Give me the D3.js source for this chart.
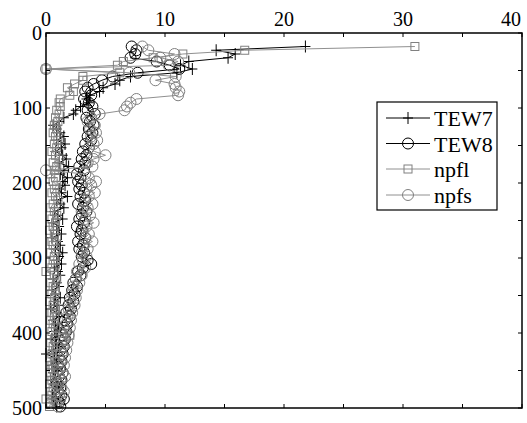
<!DOCTYPE html>
<html><head><meta charset="utf-8">
<script src="https://cdn.jsdelivr.net/npm/d3@7/dist/d3.min.js"></script>
<style>body{margin:0;background:#fff}svg{display:block}</style>
</head><body>
<script>
const xTicks=[0,10,20,30,40];
const yTicks=[0,100,200,300,400,500];
const seriesNames=["TEW7","TEW8","npfl","npfs"];
const depths=[18,23,28,33,38,43,48,53,58,63,68,73,78,83,88,93,98,103,108,113,118,123,128,133,
138,143,148,153,158,163,168,173,178,183,188,193,198,
203,208,213,218,223,228,233,238,243,248,253,258,263,268,273,278,283,288,293,298,
303,308,313,318,323,328,333,338,343,348,353,358,363,368,373,378,383,388,393,398,
403,408,413,418,423,428,433,438,443,448,453,458,463,468,473,478,483,488,493,498];
const tew7=[21.8,14.3,15.9,15.3,12.0,11.3,12.3,11.0,7.1,6.2,5.8,4.8,4.5,3.7,3.4,3.6,2.9,2.5,2.3,1.5,1.1,0.6,0.9,1.2,
1.5,0.9,1.6,1.3,0.8,1.4,1.7,1.1,1.9,1.5,1.2,1.8,1.4,
1.6,1.1,1.3,1.8,0.9,1.2,1.5,0.7,1.0,1.4,0.6,1.1,0.9,1.3,0.5,1.0,1.2,0.8,1.4,1.1,
0.9,1.3,0.7,1.0,1.2,0.6,0.9,1.1,0.5,0.8,1.2,0.7,1.0,0.4,0.9,1.1,0.6,0.8,1.0,0.7,
0.9,0.5,0.8,1.1,0.6,0.0,0.7,0.9,0.5,1.0,0.6,0.8,0.4,0.9,1.1,0.7,0.5,0.8,0.6,0.9];
const tew8=[7.2,7.6,7.5,7.1,9.3,10.4,11.2,7.7,5.6,4.7,4.0,3.5,3.3,3.8,3.2,3.6,3.9,3.5,4.1,3.4,3.7,4.0,3.6,3.9,
3.5,3.8,3.3,3.6,3.1,3.4,3.0,3.3,2.8,3.2,2.6,2.9,2.7,
3.0,2.8,3.2,2.9,3.3,2.7,3.1,3.4,3.0,2.8,3.2,2.6,3.0,2.9,3.3,2.7,3.1,2.8,3.2,3.0,
3.5,3.8,3.1,2.7,2.9,2.5,2.3,2.6,2.2,2.4,2.0,2.3,1.9,2.1,1.7,2.0,1.6,1.8,1.5,1.7,
1.4,1.6,1.3,1.5,1.2,1.4,1.1,1.3,1.0,1.2,1.4,1.1,1.3,0.9,1.2,1.0,1.3,1.5,1.1,1.2];
const npfl=[31.0,16.7,11.5,9.0,6.5,6.0,0.0,6.2,3.1,3.1,2.4,1.8,2.3,2.0,1.2,1.1,1.2,0.9,1.1,0.8,1.0,0.7,0.9,0.6,
0.8,1.0,0.7,0.9,0.5,0.8,1.1,0.6,0.9,0.7,0.4,0.8,0.6,
0.9,0.7,0.5,0.8,1.0,0.6,0.4,0.7,0.9,0.5,0.8,0.6,0.3,0.7,0.9,0.5,0.6,0.8,0.4,0.7,
0.6,0.8,0.5,0.0,0.7,0.9,0.4,0.6,0.8,0.5,0.7,0.3,0.6,0.8,0.5,0.7,0.4,0.6,0.8,0.5,
2.0,0.7,0.4,0.6,0.8,0.5,0.3,0.7,0.5,0.6,0.4,0.7,0.5,0.3,0.6,0.4,0.5,0.0,0.4,0.3];
const npfs=[8.1,8.6,10.8,9.6,11.1,10.3,0.0,7.0,10.9,9.2,10.8,10.9,11.2,11.1,7.6,7.1,6.8,6.6,4.5,3.8,3.5,4.1,3.7,4.2,
3.8,4.3,4.0,3.6,4.1,5.0,4.0,3.5,3.9,0.0,3.3,3.6,4.2,
3.8,3.4,4.1,3.6,3.2,3.9,3.5,3.0,3.7,3.3,4.0,3.4,3.1,3.6,3.3,3.9,3.2,3.5,3.0,3.4,
3.1,2.8,3.3,2.6,3.0,2.5,2.8,2.3,2.6,2.2,2.5,2.0,2.4,1.9,2.2,1.8,2.1,1.7,2.0,1.6,
1.9,1.5,1.8,1.4,1.7,1.3,1.6,1.2,1.5,1.1,1.4,1.6,1.2,1.0,1.3,1.5,1.1,1.2,0.9,1.0];

const FONT="'Liberation Serif','Times New Roman','DejaVu Serif',serif";
const W=527,H=423;
const svg=d3.select("body").append("svg").attr("width",W).attr("height",H);
const x=d3.scaleLinear().domain([0,40]).range([46,522]);
const y=d3.scaleLinear().domain([0,500]).range([33,408]);

const styles=[
 {name:seriesNames[0],vals:tew7,color:"#000",line:"#000",marker:"plus"},
 {name:seriesNames[1],vals:tew8,color:"#000",line:"#000",marker:"circle"},
 {name:seriesNames[2],vals:npfl,color:"#808080",line:"#909090",marker:"square"},
 {name:seriesNames[3],vals:npfs,color:"#808080",line:"#909090",marker:"circle"}
];
function drawMarker(g,type,cx,cy,color){
  if(type==="plus"){
    g.append("path").attr("d",`M${cx-5},${cy}H${cx+5}M${cx},${cy-6}V${cy+6}`).attr("stroke",color).attr("stroke-width",1).attr("fill","none");
  }else if(type==="circle"){
    g.append("circle").attr("cx",cx).attr("cy",cy).attr("r",5.5).attr("fill","none").attr("stroke",color).attr("stroke-width",1);
  }else{
    g.append("rect").attr("x",cx-4).attr("y",cy-4).attr("width",8).attr("height",8).attr("fill","none").attr("stroke",color).attr("stroke-width",1);
  }
}
const line=d3.line().x(d=>x(d[0])).y(d=>y(d[1]));
styles.forEach(s=>{
  const pts=s.vals.map((v,i)=>[v,depths[i]]);
  const g=svg.append("g");
  g.append("path").attr("d",line(pts)).attr("fill","none").attr("stroke",s.line).attr("stroke-width",1);
  pts.forEach(p=>drawMarker(g,s.marker,x(p[0]),y(p[1]),s.color));
});

// axes frame
const ax=svg.append("g");
ax.append("rect").attr("x",46).attr("y",33).attr("width",476).attr("height",375).attr("fill","none").attr("stroke","#000").attr("stroke-width",1.5);
const xt=[0,5,10,15,20,25,30,35,40];
const yt=[0,50,100,150,200,250,300,350,400,450,500];
xt.forEach(v=>{
  ax.append("line").attr("x1",x(v)).attr("x2",x(v)).attr("y1",33).attr("y2",37).attr("stroke","#000");
  ax.append("line").attr("x1",x(v)).attr("x2",x(v)).attr("y1",408).attr("y2",404).attr("stroke","#000");
});
yt.forEach(v=>{
  ax.append("line").attr("x1",46).attr("x2",50).attr("y1",y(v)).attr("y2",y(v)).attr("stroke","#000");
  ax.append("line").attr("x1",522).attr("x2",518).attr("y1",y(v)).attr("y2",y(v)).attr("stroke","#000");
});
xTicks.forEach(v=>{
  ax.append("text").attr("x",Math.min(x(v),511)).attr("y",26).attr("text-anchor","middle")
    .attr("font-family",FONT).attr("font-size",20).text(v);
});
yTicks.forEach(v=>{
  ax.append("text").attr("x",42).attr("y",y(v)+7).attr("text-anchor","end")
    .attr("font-family",FONT).attr("font-size",20).text(v);
});

// legend
const lg=svg.append("g");
lg.append("rect").attr("x",377).attr("y",102).attr("width",120).attr("height",108).attr("fill","#fff").attr("stroke","#000").attr("stroke-width",1.2);
const ly=[118,143.5,169,195];
styles.forEach((s,i)=>{
  lg.append("line").attr("x1",386).attr("x2",430).attr("y1",ly[i]).attr("y2",ly[i]).attr("stroke",s.line).attr("stroke-width",1);
  drawMarker(lg,s.marker,408,ly[i],s.color);
  lg.append("text").attr("x",434).attr("y",ly[i]+8).attr("font-family",FONT).attr("font-size",22).text(s.name);
});
</script>
</body></html>
